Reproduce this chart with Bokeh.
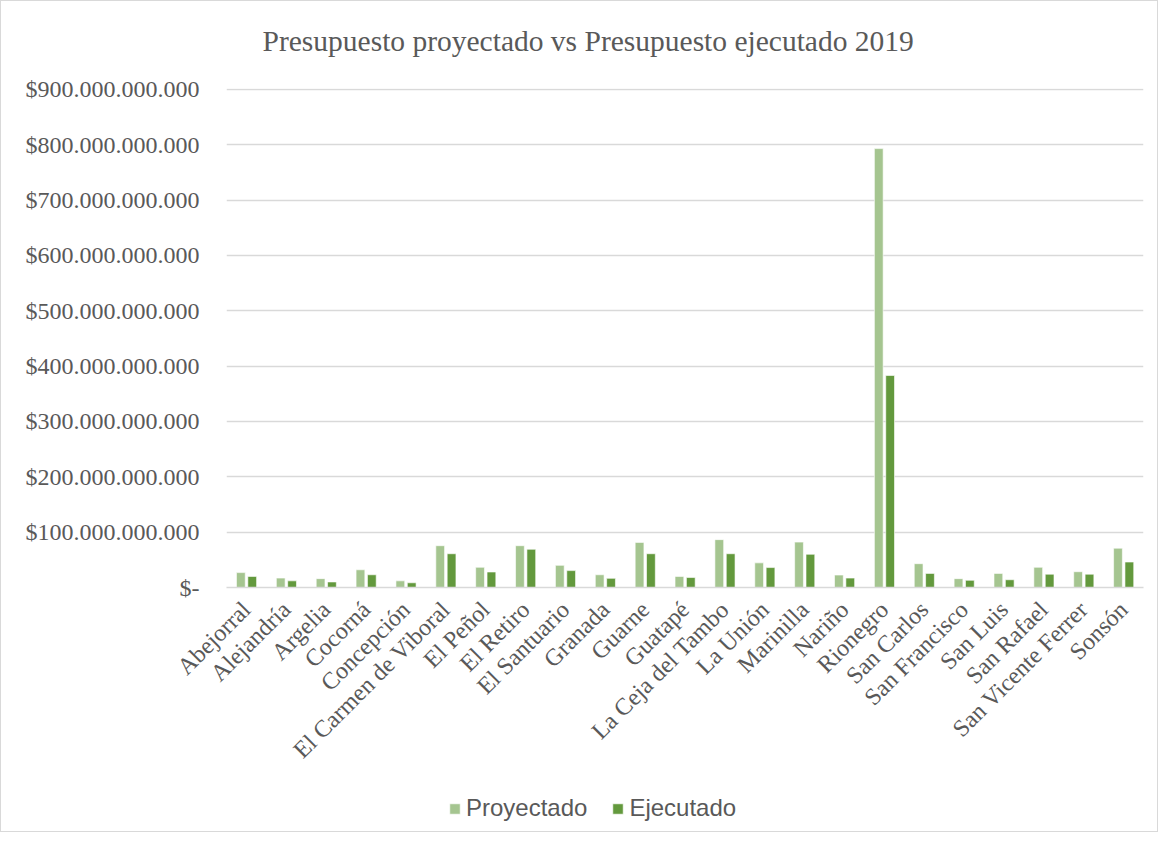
import math
from bokeh.plotting import figure
from bokeh.layouts import column
from bokeh.models import (ColumnDataSource, FactorRange, Range1d, FixedTicker, Title,
                          Legend, LegendItem)
from bokeh.transform import dodge
from bokeh.embed import file_html
from bokeh.resources import INLINE

municipios = ["Abejorral", "Alejandría", "Argelia", "Cocorná", "Concepción",
              "El Carmen de Viboral", "El Peñol", "El Retiro", "El Santuario", "Granada",
              "Guarne", "Guatapé", "La Ceja del Tambo", "La Unión", "Marinilla", "Nariño",
              "Rionegro", "San Carlos", "San Francisco", "San Luis", "San Rafael",
              "San Vicente Ferrer", "Sonsón"]

proyectado = [26.9e9, 17.0e9, 16.0e9, 32.0e9, 12.0e9, 75.5e9, 36.5e9, 75.5e9, 40.0e9, 23.0e9,
              81.5e9, 20.0e9, 86.5e9, 44.5e9, 82.0e9, 22.5e9, 793.0e9, 43.0e9, 16.0e9, 25.5e9,
              36.5e9, 28.5e9, 71.0e9]
ejecutado = [20.0e9, 12.0e9, 10.0e9, 23.0e9, 8.5e9, 61.0e9, 28.0e9, 69.0e9, 30.5e9, 16.5e9,
             61.0e9, 18.0e9, 61.0e9, 36.0e9, 60.0e9, 17.0e9, 383.0e9, 25.5e9, 13.0e9, 14.0e9,
             24.0e9, 24.0e9, 46.0e9]

y_ticks = [0, 100e9, 200e9, 300e9, 400e9, 500e9, 600e9, 700e9, 800e9, 900e9]
y_tick_labels = ["$-", "$100.000.000.000", "$200.000.000.000", "$300.000.000.000",
                 "$400.000.000.000", "$500.000.000.000", "$600.000.000.000",
                 "$700.000.000.000", "$800.000.000.000", "$900.000.000.000"]

title_text = "Presupuesto proyectado vs Presupuesto ejecutado 2019"
series_names = ["Proyectado", "Ejecutado"]

C_PROY = "#A5C590"
C_EJEC = "#63993D"
GRID = "#D9D9D9"
TXT = "#595959"
SERIF = "Liberation Serif"

source = ColumnDataSource(dict(muni=municipios, proy=proyectado, ejec=ejecutado))

p = figure(x_range=FactorRange(*municipios), y_range=Range1d(0, 901.6e9),
           width=1156, height=790, output_backend="svg", toolbar_location=None,
           title=None, min_border_left=225, min_border_right=14,
           min_border_top=87, min_border_bottom=204)
p.outline_line_color = None
p.background_fill_color = "white"
p.border_fill_color = "white"

r1 = p.vbar(x=dodge("muni", -0.14, range=p.x_range), top="proy", width=0.22,
            source=source, fill_color=C_PROY, line_color="white", line_width=0.6)
r2 = p.vbar(x=dodge("muni", 0.145, range=p.x_range), top="ejec", width=0.22,
            source=source, fill_color=C_EJEC, line_color="white", line_width=0.6)

# axes
p.yaxis.ticker = FixedTicker(ticks=y_ticks)
p.yaxis.major_label_overrides = {t: l for t, l in zip(y_ticks, y_tick_labels)}
p.yaxis.axis_line_color = None
p.yaxis.major_tick_line_color = None
p.yaxis.minor_tick_line_color = None
p.yaxis.major_label_text_font = SERIF
p.yaxis.major_label_text_font_size = "24px"
p.yaxis.major_label_text_color = TXT
p.yaxis.major_label_standoff = 21

p.xaxis.axis_line_color = GRID
p.xaxis.axis_line_width = 1.5
p.xaxis.major_tick_line_color = None
p.xaxis.minor_tick_line_color = None
p.xaxis.major_label_orientation = math.pi / 4
p.xaxis.major_label_text_font = SERIF
p.xaxis.major_label_text_font_size = "24px"
p.xaxis.major_label_text_color = TXT
p.xaxis.major_label_standoff = 12

p.xgrid.grid_line_color = None
p.ygrid.grid_line_color = GRID
p.ygrid.grid_line_width = 1.3

# title (spacer first = nearest the frame, then the real title)
p.add_layout(Title(text=" ", text_font_size="13px"), "above")
p.add_layout(Title(text=title_text, align="left", offset=36, text_font=SERIF,
                   text_font_size="29.5px", text_font_style="normal",
                   text_color=TXT), "above")

# legend strip (separate small figure below the chart; its frame aligns with the chart's)
lg = figure(width=1156, height=40, x_range=FactorRange(*municipios),
            y_range=Range1d(-2e12, -1e12), output_backend="svg",
            toolbar_location=None, min_border=0, x_axis_type=None, y_axis_type=None)
lg.outline_line_color = None
lg.xgrid.grid_line_color = None
lg.ygrid.grid_line_color = None
lr1 = lg.vbar(x=dodge("muni", -0.14, range=lg.x_range), top="proy", width=0.22,
              source=source, fill_color=C_PROY, line_color="white", line_width=0.6)
lr2 = lg.vbar(x=dodge("muni", 0.145, range=lg.x_range), top="ejec", width=0.22,
              source=source, fill_color=C_EJEC, line_color="white", line_width=0.6)
lr1.visible = False
lr2.visible = False

legend = Legend(items=[LegendItem(label=series_names[0], renderers=[lr1]),
                       LegendItem(label=series_names[1], renderers=[lr2])],
                orientation="horizontal", location=(222, 9), click_policy="none")
legend.label_text_font = "Liberation Sans"
legend.label_text_font_size = "24px"
legend.label_text_color = TXT
legend.glyph_width = 13
legend.glyph_height = 13
legend.label_standoff = 5
legend.spacing = 24
legend.padding = 0
legend.margin = 0
legend.border_line_color = None
legend.background_fill_alpha = 0
lg.add_layout(legend, "center")

layout = column(p, lg, spacing=0)
layout.styles = {"border": "1px solid #D9D9D9"}

open("out.html", "w").write(file_html(layout, INLINE))
